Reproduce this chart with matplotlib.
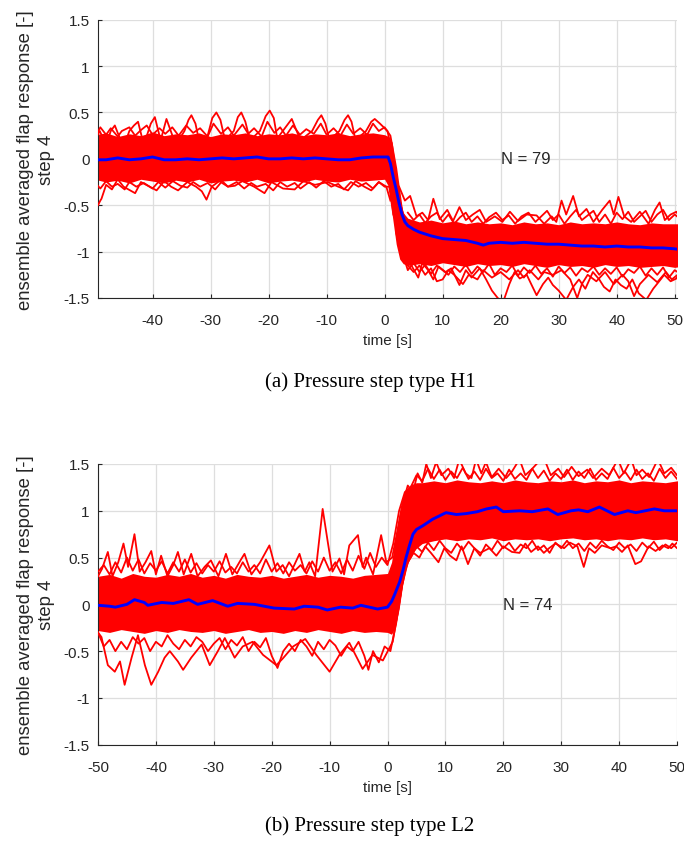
import numpy as np
import matplotlib
matplotlib.use("Agg")
import matplotlib.pyplot as plt

plt.rcParams['font.family'] = ['Liberation Sans', 'DejaVu Sans']
plt.rcParams['axes.unicode_minus'] = False

# ---------------- panel (a): pressure step type H1, N = 79 ----------------
# dense core of the ensemble: (time, upper edge, lower edge)
a_core = [(-50, 0.26, -0.22), (-48, 0.28, -0.25), (-46, 0.24, -0.23), (-44, 0.27, -0.26),
          (-42, 0.25, -0.22), (-40, 0.29, -0.24), (-38, 0.25, -0.26), (-36, 0.27, -0.23),
          (-34, 0.26, -0.25), (-32, 0.28, -0.22), (-30, 0.24, -0.26), (-28, 0.27, -0.24),
          (-26, 0.26, -0.23), (-24, 0.28, -0.25), (-22, 0.25, -0.22), (-20, 0.27, -0.26),
          (-18, 0.26, -0.24), (-16, 0.28, -0.23), (-14, 0.25, -0.25), (-12, 0.27, -0.22),
          (-10, 0.26, -0.24), (-8, 0.28, -0.25), (-6, 0.25, -0.22), (-4, 0.27, -0.24),
          (-2, 0.28, -0.23), (0, 0.26, -0.22), (0.7, 0.24, -0.3), (1.3, 0.18, -0.6),
          (2, -0.15, -0.92), (2.6, -0.42, -1.08), (3.2, -0.58, -1.13), (4, -0.64, -1.15),
          (5, -0.66, -1.14), (6, -0.68, -1.13), (8, -0.66, -1.15), (10, -0.69, -1.12),
          (12, -0.67, -1.14), (14, -0.7, -1.16), (16, -0.68, -1.13), (18, -0.7, -1.15),
          (20, -0.69, -1.14), (22, -0.71, -1.16), (24, -0.68, -1.13), (26, -0.7, -1.15),
          (28, -0.69, -1.17), (30, -0.71, -1.14), (32, -0.68, -1.16), (34, -0.7, -1.15),
          (36, -0.69, -1.17), (38, -0.7, -1.14), (40, -0.68, -1.16), (42, -0.7, -1.15),
          (44, -0.71, -1.17), (46, -0.69, -1.16), (48, -0.7, -1.15), (50, -0.7, -1.17),
          (51, -0.7, -1.16)]

a_mean = [(-50, -0.01), (-48, -0.01), (-46, 0.01), (-44, -0.01), (-42, 0.0), (-40, 0.02),
          (-38, -0.01), (-36, -0.01), (-34, 0.0), (-32, -0.01), (-30, 0.0), (-28, 0.01),
          (-26, 0.0), (-24, 0.01), (-22, 0.02), (-20, 0.0), (-18, 0.0), (-16, 0.01),
          (-14, 0.0), (-12, 0.01), (-10, 0.0), (-8, -0.01), (-6, -0.01), (-4, 0.01),
          (-2, 0.02), (0, 0.02), (0.6, 0.02), (1, -0.05), (1.5, -0.2), (2, -0.33),
          (2.5, -0.48), (3, -0.6), (3.5, -0.68), (4, -0.72), (5, -0.76), (6, -0.79),
          (8, -0.83), (10, -0.86), (12, -0.87), (14, -0.88), (16, -0.91), (17, -0.93),
          (18, -0.91), (20, -0.9), (22, -0.91), (24, -0.9), (26, -0.91), (28, -0.92),
          (30, -0.92), (32, -0.93), (34, -0.94), (36, -0.94), (38, -0.95), (40, -0.94),
          (42, -0.95), (44, -0.95), (46, -0.96), (48, -0.96), (50, -0.97), (51, -0.98)]

# single traces that stick out of the core
a_up_pre = [(-50, 0.2), (-49.1, 0.3), (-48, 0.15), (-47.2, 0.3), (-46.5, 0.36), (-45, 0.12),
            (-44, 0.3), (-43.2, 0.36), (-42.5, 0.4), (-41.5, 0.15), (-40.3, 0.38), (-39.6, 0.45),
            (-38.6, 0.2), (-37.6, 0.43), (-36, 0.15), (-34.5, 0.3), (-33.8, 0.42), (-33.3, 0.47),
            (-32.6, 0.38), (-32, 0.2), (-30.5, 0.25), (-29.7, 0.44), (-29, 0.5), (-28.3, 0.42),
            (-27.5, 0.2), (-26, 0.3), (-25.3, 0.45), (-24.7, 0.5), (-24, 0.4), (-23.2, 0.2),
            (-21.5, 0.3), (-20.5, 0.46), (-19.8, 0.52), (-19.1, 0.44), (-18.5, 0.22), (-16.6, 0.38),
            (-16, 0.43), (-14.5, 0.2), (-12.5, 0.3), (-11.5, 0.42), (-10.9, 0.47), (-10.2, 0.38),
            (-9.5, 0.2), (-7.8, 0.3), (-6.9, 0.42), (-6.3, 0.47), (-5.7, 0.4), (-5, 0.2),
            (-3.2, 0.3), (-2.3, 0.4), (-1.7, 0.43), (-0.8, 0.38), (0.5, 0.3), (1.5, 0.0),
            (2.5, -0.45), (3.5, -0.65)]
a_up_pre2 = [(-50, 0.22), (-49, 0.34), (-48, 0.26), (-47.2, 0.33), (-46, 0.24), (-45.3, 0.3),
             (-44, 0.34), (-43, 0.25), (-42, 0.31), (-41, 0.36), (-40, 0.26), (-38.8, 0.33),
             (-37.8, 0.27), (-36.6, 0.34), (-35.5, 0.25), (-34.2, 0.36), (-33, 0.28), (-31.8, 0.33),
             (-30.5, 0.24), (-29.5, 0.38), (-28.2, 0.27), (-27, 0.34), (-26, 0.25), (-24.5, 0.37),
             (-23.5, 0.27), (-22.5, 0.33), (-21.2, 0.24), (-20.2, 0.4), (-19, 0.28), (-18, 0.34),
             (-17, 0.25), (-15.8, 0.36), (-14.6, 0.26), (-13.5, 0.32), (-12.2, 0.27), (-11, 0.38),
             (-10, 0.26), (-8.8, 0.33), (-7.6, 0.25), (-6.5, 0.37), (-5.4, 0.27), (-4.2, 0.33),
             (-3, 0.26), (-2, 0.38), (-1, 0.3), (0, 0.34), (1, 0.25), (2, -0.1), (3, -0.55)]
a_lo_pre = [(-50, -0.52), (-49.4, -0.5), (-49, -0.45), (-48.8, -0.43), (-48, -0.28), (-47, -0.33),
            (-46, -0.22), (-45, -0.3), (-43, -0.37), (-42, -0.25), (-40.5, -0.3), (-39.3, -0.34),
            (-38, -0.24), (-36.8, -0.3), (-35.6, -0.34), (-34, -0.25), (-32.5, -0.3), (-31.5, -0.35),
            (-30.7, -0.44), (-29.8, -0.3), (-28.5, -0.24), (-27, -0.3), (-25.8, -0.29), (-24.5, -0.24),
            (-22.5, -0.3), (-20.7, -0.37), (-19.5, -0.25), (-17.5, -0.32), (-15.5, -0.33), (-14, -0.24),
            (-12, -0.28), (-9.8, -0.25), (-8, -0.3), (-6.3, -0.34), (-5, -0.24), (-3.5, -0.3),
            (-2.3, -0.34), (-1, -0.25), (0.3, -0.3), (1, -0.45)]
a_lo_pre2 = [(-50, -0.25), (-49, -0.32), (-48, -0.24), (-47, -0.3), (-46, -0.27), (-44.8, -0.33),
             (-44, -0.25), (-42.8, -0.3), (-41.5, -0.26), (-40, -0.32), (-39, -0.25), (-37.8, -0.31),
             (-36.5, -0.24), (-35.2, -0.29), (-34, -0.31), (-33, -0.25), (-31.8, -0.3), (-30.5, -0.26),
             (-29.2, -0.33), (-28, -0.24), (-27, -0.3), (-25.5, -0.25), (-24.2, -0.32), (-23, -0.26),
             (-22, -0.3), (-20.5, -0.27), (-19.2, -0.34), (-18, -0.25), (-16.8, -0.3), (-15.5, -0.26),
             (-14.5, -0.32), (-13, -0.25), (-11.8, -0.31), (-10.5, -0.24), (-9.2, -0.3), (-8, -0.27),
             (-7, -0.33), (-5.8, -0.25), (-4.5, -0.3), (-3.2, -0.26), (-2, -0.32), (-1, -0.25),
             (0, -0.3), (0.8, -0.3), (1.5, -0.6)]
a_up_post = [(2.5, -0.3), (3.5, -0.45), (4.4, -0.4), (5.5, -0.62), (6.5, -0.58), (7.5, -0.66),
             (8.4, -0.43), (9.5, -0.65), (10.8, -0.55), (11.8, -0.67), (12.9, -0.52), (14, -0.66),
             (15.2, -0.6), (16.4, -0.55), (17.5, -0.68), (19, -0.62), (20.3, -0.68), (21.6, -0.57),
             (23, -0.67), (24.5, -0.6), (26.2, -0.61), (27.5, -0.7), (28.8, -0.62), (29.6, -0.68),
             (30.5, -0.45), (31.3, -0.6), (32.5, -0.4), (33.5, -0.62), (34.8, -0.54), (36, -0.68),
             (37.5, -0.55), (38.8, -0.45), (39.5, -0.6), (40.3, -0.41), (41.3, -0.62), (42.5, -0.68),
             (44, -0.57), (45.5, -0.7), (46.6, -0.55), (47.4, -0.47), (48.3, -0.66), (49.3, -0.6),
             (50.3, -0.57), (51, -0.65)]
a_up_post2 = [(4, -0.58), (5, -0.66), (6, -0.6), (7, -0.69), (8, -0.62), (9, -0.58), (10, -0.68),
              (11, -0.6), (12, -0.7), (13, -0.63), (14, -0.58), (15, -0.68), (16, -0.62), (17, -0.7),
              (18, -0.63), (19.2, -0.58), (20.3, -0.66), (21.4, -0.61), (22.5, -0.7), (23.6, -0.62),
              (24.8, -0.58), (26, -0.68), (27, -0.62), (28, -0.56), (29, -0.66), (30, -0.6),
              (31, -0.7), (32, -0.62), (33, -0.55), (34, -0.66), (35, -0.61), (36, -0.56),
              (37, -0.68), (38, -0.6), (39, -0.7), (40, -0.58), (41, -0.65), (42, -0.57),
              (43, -0.68), (44, -0.62), (45, -0.56), (46, -0.68), (47, -0.6), (48, -0.55),
              (49, -0.66), (50, -0.6), (51, -0.65)]
a_lo_post = [(2, -0.8), (3, -1.05), (4.2, -1.1), (4.9, -1.18), (5.8, -1.28), (6.5, -1.12),
             (7.5, -1.2), (8.4, -1.3), (9.3, -1.16), (10.5, -1.22), (11.5, -1.18), (12.9, -1.36),
             (14, -1.2), (15, -1.28), (16.4, -1.18), (17.5, -1.3), (18.5, -1.42), (19.5, -1.5),
             (20.4, -1.55), (21.5, -1.35), (22.4, -1.22), (23.3, -1.29), (24.5, -1.25), (25.5, -1.38),
             (26.2, -1.47), (27.3, -1.35), (28.2, -1.28), (29, -1.36), (30, -1.42), (31.3, -1.52),
             (32.5, -1.38), (33.5, -1.3), (34.6, -1.4), (35.9, -1.22), (37, -1.3), (37.8, -1.38),
             (38.8, -1.43), (39.8, -1.3), (40.7, -1.36), (41.7, -1.4), (42.7, -1.3), (43.8, -1.45),
             (45.1, -1.52), (46.3, -1.4), (47.2, -1.33), (48.2, -1.25), (49.3, -1.32), (50.3, -1.29),
             (51, -1.2)]
a_lo_post2 = [(4, -1.15), (5, -1.22), (6, -1.15), (7, -1.25), (8, -1.18), (9, -1.32), (10, -1.3),
              (11, -1.2), (12, -1.25), (13.5, -1.35), (14.5, -1.25), (16, -1.3), (17, -1.2),
              (18.5, -1.28), (20, -1.22), (21.5, -1.3), (23, -1.2), (24, -1.28), (25, -1.2),
              (26.5, -1.3), (27.5, -1.22), (29, -1.25), (30.5, -1.2), (32, -1.3), (33.2, -1.5),
              (34, -1.35), (35, -1.25), (36.5, -1.32), (38, -1.22), (39.5, -1.35), (41, -1.25),
              (42, -1.32), (43, -1.48), (44, -1.35), (45.5, -1.25), (47, -1.33), (48.5, -1.22),
              (49.5, -1.3), (50.5, -1.25)]
a_lo_post3 = [(3, -1.0), (4, -1.2), (5, -1.12), (6, -1.22), (7, -1.14), (8, -1.24), (9, -1.15),
              (10, -1.2), (11, -1.25), (12, -1.16), (13, -1.22), (14, -1.14), (15, -1.24),
              (16, -1.16), (17, -1.22), (18, -1.13), (19, -1.25), (20, -1.18), (21, -1.22),
              (22, -1.15), (23, -1.26), (24, -1.17), (25, -1.23), (26, -1.15), (27, -1.24),
              (28, -1.18), (29, -1.27), (30, -1.16), (31, -1.23), (32, -1.17), (33, -1.26),
              (34, -1.18), (35, -1.22), (36, -1.16), (37, -1.25), (38, -1.18), (39, -1.24),
              (40, -1.17), (41, -1.27), (42, -1.19), (43, -1.23), (44, -1.16), (45, -1.26),
              (46, -1.18), (47, -1.25), (48, -1.17), (49, -1.28), (50, -1.2), (51, -1.24)]

# ---------------- panel (b): pressure step type L2, N = 74 ----------------
b_core = [(-50, 0.3, -0.28), (-48, 0.32, -0.3), (-46, 0.28, -0.27), (-44, 0.33, -0.29),
          (-42, 0.3, -0.31), (-40, 0.29, -0.28), (-38, 0.32, -0.3), (-36, 0.3, -0.27),
          (-34, 0.33, -0.29), (-32, 0.29, -0.3), (-30, 0.31, -0.28), (-28, 0.28, -0.31),
          (-26, 0.32, -0.29), (-24, 0.3, -0.27), (-22, 0.29, -0.3), (-20, 0.31, -0.29),
          (-18, 0.28, -0.31), (-16, 0.3, -0.28), (-14, 0.32, -0.3), (-12, 0.29, -0.27),
          (-10, 0.31, -0.29), (-8, 0.3, -0.31), (-6, 0.28, -0.28), (-4, 0.31, -0.3),
          (-2, 0.32, -0.29), (0, 0.33, -0.3), (0.7, 0.45, -0.32), (1.3, 0.7, -0.25),
          (2, 0.95, -0.05), (2.6, 1.12, 0.2), (3.2, 1.22, 0.38), (4, 1.28, 0.52),
          (5, 1.3, 0.6), (6, 1.3, 0.65), (8, 1.32, 0.68), (10, 1.3, 0.7), (12, 1.33, 0.68),
          (14, 1.31, 0.7), (16, 1.3, 0.69), (18, 1.32, 0.71), (20, 1.3, 0.68), (22, 1.33, 0.7),
          (24, 1.31, 0.69), (26, 1.3, 0.7), (28, 1.32, 0.68), (30, 1.31, 0.7), (32, 1.33, 0.71),
          (34, 1.3, 0.69), (36, 1.32, 0.7), (38, 1.31, 0.68), (40, 1.33, 0.7), (42, 1.3, 0.69),
          (44, 1.32, 0.71), (46, 1.31, 0.69), (48, 1.3, 0.7), (50, 1.32, 0.68), (51, 1.32, 0.7)]

b_mean = [(-50, -0.01), (-48, -0.02), (-47, -0.03), (-45, 0.0), (-43.7, 0.05), (-42, 0.02),
          (-41.4, -0.01), (-39, 0.02), (-37, 0.01), (-34.3, 0.05), (-32.8, 0.0), (-30.2, 0.04),
          (-27.6, -0.02), (-25.9, 0.01), (-23, 0.0), (-19.6, -0.04), (-16.1, -0.05), (-14.4, -0.02),
          (-12, -0.03), (-10.4, -0.06), (-8.1, -0.03), (-6, -0.04), (-4.6, -0.01), (-1.7, -0.05),
          (0, -0.03), (0.7, 0.03), (1.2, 0.1), (2.1, 0.24), (2.7, 0.37), (3.2, 0.5), (3.8, 0.63),
          (4.4, 0.75), (5, 0.8), (6.1, 0.84), (7.8, 0.91), (10.1, 0.98), (11.9, 0.96), (13.6, 0.97),
          (15.5, 0.99), (17.1, 1.02), (18.8, 1.04), (20, 0.99), (22.8, 1.0), (25, 0.99),
          (27.7, 1.02), (29.4, 0.96), (31.7, 1.0), (33, 1.01), (34.6, 0.99), (36.6, 1.04),
          (39.2, 0.96), (41.5, 1.0), (42.9, 0.98), (44.5, 1.0), (46.1, 1.02), (47.8, 1.0),
          (50, 1.0), (51, 1.0)]

b_up = [(-50, 0.3), (-49.3, 0.38), (-48.3, 0.56), (-47.5, 0.3), (-46.5, 0.45), (-45.6, 0.65),
        (-44.8, 0.4), (-43.7, 0.75), (-42.8, 0.35), (-41.8, 0.45), (-40.8, 0.57), (-40, 0.32),
        (-39.1, 0.52), (-38, 0.3), (-37, 0.42), (-36.2, 0.56), (-35.2, 0.32), (-33.9, 0.54),
        (-32.8, 0.3), (-31.6, 0.4), (-30.5, 0.47), (-29.2, 0.3), (-27.9, 0.54), (-26.8, 0.32),
        (-25.3, 0.48), (-24.7, 0.54), (-23.5, 0.32), (-22, 0.45), (-20.4, 0.63), (-19.2, 0.35),
        (-18.1, 0.42), (-17, 0.3), (-15.2, 0.54), (-14.3, 0.35), (-13.5, 0.45), (-12.5, 0.3),
        (-11.2, 1.02), (-10.3, 0.66), (-9.5, 0.35), (-8.3, 0.49), (-7.5, 0.32), (-6.6, 0.63),
        (-5.1, 0.74), (-4.3, 0.4), (-3.7, 0.5), (-2.5, 0.32), (-1.1, 0.74), (-0.2, 0.45),
        (0.8, 0.5), (1.6, 0.75), (2.5, 1.05), (3.5, 1.27), (4.4, 1.2), (5.2, 1.4), (6, 1.3),
        (6.7, 1.5), (7.5, 1.35), (8.4, 1.52), (9.3, 1.38), (10.5, 1.45), (11.5, 1.35),
        (12.4, 1.55), (13.5, 1.4), (14.5, 1.35), (15.3, 1.55), (16.2, 1.4), (17, 1.52),
        (18, 1.36), (19.2, 1.45), (20.5, 1.35), (21.5, 1.42), (22.8, 1.55), (23.8, 1.38),
        (25, 1.45), (26.5, 1.55), (27.3, 1.52), (28.2, 1.38), (29.5, 1.45), (30.5, 1.36),
        (31.8, 1.47), (33, 1.37), (34.5, 1.44), (35.5, 1.35), (37, 1.45), (38.3, 1.38),
        (39.8, 1.55), (40.8, 1.4), (42.1, 1.55), (43, 1.38), (44, 1.44), (45.2, 1.36),
        (46.7, 1.55), (47.8, 1.4), (49, 1.46), (50, 1.38), (51, 1.42)]
b_up2 = [(-50, 0.35), (-49, 0.42), (-48, 0.32), (-47, 0.45), (-46, 0.34), (-45, 0.5), (-44, 0.36),
         (-43, 0.48), (-42, 0.33), (-41, 0.44), (-40, 0.36), (-39, 0.46), (-38, 0.33), (-37, 0.45),
         (-36, 0.35), (-35, 0.48), (-34, 0.34), (-33, 0.44), (-32, 0.33), (-31, 0.42), (-30, 0.35),
         (-29, 0.46), (-28, 0.34), (-27, 0.4), (-26, 0.33), (-25, 0.45), (-24, 0.35), (-23, 0.42),
         (-22, 0.33), (-21, 0.48), (-20, 0.35), (-19, 0.44), (-18, 0.33), (-17, 0.45), (-16, 0.36),
         (-15, 0.42), (-14, 0.33), (-13, 0.46), (-12, 0.35), (-11, 0.5), (-10, 0.36), (-9, 0.45),
         (-8, 0.33), (-7, 0.48), (-6, 0.36), (-5, 0.52), (-4, 0.38), (-3, 0.55), (-2, 0.4),
         (-1, 0.5), (0, 0.42), (1, 0.65), (2, 1.0), (3, 1.2), (4, 1.25), (5, 1.38), (6, 1.32),
         (7, 1.45), (8, 1.34), (9, 1.44), (10, 1.33), (11, 1.42), (12, 1.35), (13, 1.46),
         (14, 1.34), (15, 1.42), (16, 1.33), (17, 1.45), (18, 1.35), (19, 1.4), (20, 1.32),
         (21, 1.44), (22, 1.34), (23, 1.4), (24, 1.33), (25, 1.45), (26, 1.35), (27, 1.43),
         (28, 1.32), (29, 1.4), (30, 1.34), (31, 1.44), (32, 1.33), (33, 1.42), (34, 1.35),
         (35, 1.45), (36, 1.33), (37, 1.4), (38, 1.34), (39, 1.46), (40, 1.35), (41, 1.42),
         (42, 1.33), (43, 1.44), (44, 1.34), (45, 1.4), (46, 1.32), (47, 1.45), (48, 1.35),
         (49, 1.42), (50, 1.34), (51, 1.4)]
b_lo = [(-50, -0.3), (-49.4, -0.35), (-48.3, -0.65), (-47.1, -0.72), (-46.2, -0.61), (-45.4, -0.86),
        (-44.2, -0.57), (-43.1, -0.33), (-41.9, -0.65), (-40.8, -0.86), (-39.6, -0.72), (-38.5, -0.57),
        (-37.6, -0.5), (-36.2, -0.61), (-35.3, -0.7), (-33.9, -0.57), (-32.1, -0.43), (-30.7, -0.65),
        (-29.3, -0.5), (-28.1, -0.36), (-26.4, -0.57), (-25, -0.45), (-23.3, -0.4), (-21.5, -0.54),
        (-19.2, -0.65), (-18.1, -0.58), (-16.3, -0.45), (-14.2, -0.37), (-12.3, -0.54), (-10, -0.72),
        (-8.3, -0.54), (-6.6, -0.41), (-4.3, -0.69), (-2.6, -0.54), (-0.8, -0.6), (0.9, -0.4),
        (2, 0.0), (3, 0.4), (4.5, 0.55), (5.5, 0.5), (6.5, 0.62), (7.5, 0.55), (8.8, 0.45),
        (9.8, 0.6), (10.8, 0.52), (11.9, 0.47), (12.8, 0.62), (13.9, 0.43), (15, 0.6), (16, 0.55),
        (17.6, 0.6), (18.8, 0.52), (20, 0.62), (21.5, 0.56), (22.8, 0.55), (23.8, 0.65),
        (24.8, 0.56), (26, 0.62), (27, 0.55), (27.9, 0.6), (29, 0.65), (30.5, 0.6), (31.5, 0.66),
        (32.8, 0.62), (33.9, 0.4), (34.8, 0.6), (35.8, 0.55), (37, 0.63), (38.5, 0.6), (39.5, 0.62),
        (40.5, 0.56), (41.5, 0.63), (42.8, 0.43), (43.8, 0.46), (45.1, 0.62), (46.3, 0.57),
        (47.5, 0.63), (48.5, 0.6), (49.2, 0.65), (50, 0.6), (51, 0.64)]
b_lo2 = [(-50, -0.3), (-49, -0.45), (-48, -0.38), (-47, -0.5), (-46, -0.4), (-45, -0.48),
         (-44, -0.35), (-43, -0.42), (-42, -0.36), (-41, -0.5), (-40, -0.4), (-39, -0.45),
         (-38, -0.33), (-37, -0.42), (-36, -0.48), (-35, -0.38), (-34, -0.45), (-33, -0.35),
         (-32, -0.4), (-31, -0.5), (-30, -0.42), (-29, -0.36), (-28, -0.48), (-27, -0.38),
         (-26, -0.44), (-25, -0.35), (-24, -0.5), (-23, -0.4), (-22, -0.46), (-21, -0.36),
         (-20, -0.55), (-19, -0.68), (-18, -0.5), (-17, -0.42), (-16, -0.5), (-15, -0.38),
         (-14, -0.45), (-13, -0.55), (-12, -0.4), (-11, -0.48), (-10, -0.38), (-9, -0.44),
         (-8, -0.55), (-7, -0.45), (-6, -0.5), (-5, -0.4), (-4, -0.55), (-3.3, -0.7), (-2.5, -0.5),
         (-1.5, -0.62), (-0.5, -0.45), (0.5, -0.5), (1.5, -0.2), (2.5, 0.2), (3.5, 0.45),
         (4, 0.5), (5, 0.62), (6, 0.56), (7, 0.66), (8, 0.58), (9, 0.68), (10, 0.6), (11, 0.55),
         (12, 0.65), (13, 0.58), (14, 0.67), (15, 0.6), (16, 0.52), (17, 0.64), (18, 0.58),
         (19, 0.68), (20, 0.6), (21, 0.66), (22, 0.57), (23, 0.64), (24, 0.6), (25, 0.68),
         (26, 0.58), (27, 0.63), (28, 0.55), (29, 0.66), (30, 0.6), (31, 0.68), (32, 0.6),
         (33, 0.65), (34, 0.57), (35, 0.66), (36, 0.6), (37, 0.68), (38, 0.62), (39, 0.58),
         (40, 0.66), (41, 0.6), (42, 0.64), (43, 0.57), (44, 0.66), (45, 0.6), (46, 0.67),
         (47, 0.58), (48, 0.64), (49, 0.6), (50, 0.66), (51, 0.62)]

yticks = [-1.5, -1, -0.5, 0, 0.5, 1, 1.5]
ytick_labels = ['-1.5', '-1', '-0.5', '0', '0.5', '1', '1.5']
ylabel = 'ensemble averaged flap response [-]\nstep 4'

dark = '#262626'


def draw_panel(ax, core, mean, traces, xlim, xticks, n_label):
    core = np.array(core)
    ax.fill_between(core[:, 0], core[:, 2], core[:, 1], color='#ff0000', lw=0, zorder=2)
    for tr in traces:
        tr = np.array(tr)
        ax.plot(tr[:, 0], tr[:, 1], color='#ff0000', lw=1.3, zorder=3)
    mean = np.array(mean)
    ax.plot(mean[:, 0], mean[:, 1], color='#0000ff', lw=2.1, zorder=4)
    ax.text(20, 0, n_label, fontsize=12, color=dark, va='center', ha='left')

    ax.set_xlim(xlim)
    ax.set_ylim(-1.5, 1.5)
    ax.set_xticks(xticks)
    ax.set_xticklabels([str(x) for x in xticks])
    ax.set_yticks(yticks)
    ax.set_yticklabels(ytick_labels)
    ax.grid(True, color='#dedede', lw=0.9)
    ax.set_axisbelow(True)
    for s in ['top', 'right']:
        ax.spines[s].set_visible(False)
    for s in ['left', 'bottom']:
        ax.spines[s].set_color(dark)
        ax.spines[s].set_linewidth(0.8)
    ax.tick_params(direction='in', length=3, colors=dark, labelsize=11, pad=6)
    ax.tick_params(axis='x', pad=11)
    ax.set_xlabel('time [s]', fontsize=11, color=dark, labelpad=4)
    ax.set_ylabel(ylabel, fontsize=13.3, color=dark, linespacing=1.3)
    ax.yaxis.set_label_coords(-0.075, 0.5)


fig = plt.figure(figsize=(6.84, 8.45), dpi=100)
ax1 = fig.add_axes([98 / 684, 1 - 299 / 845, 579 / 684, 278.3 / 845])
ax2 = fig.add_axes([98 / 684, 1 - 745.7 / 845, 579 / 684, 280.7 / 845])

draw_panel(ax1, a_core, a_mean,
           [a_up_pre, a_up_pre2, a_lo_pre, a_lo_pre2, a_up_post, a_up_post2,
            a_lo_post, a_lo_post2, a_lo_post3],
           (-49.4, 50.4), [-40, -30, -20, -10, 0, 10, 20, 30, 40, 50], 'N = 79')
draw_panel(ax2, b_core, b_mean, [b_up, b_up2, b_lo, b_lo2],
           (-50, 50), [-50, -40, -30, -20, -10, 0, 10, 20, 30, 40, 50], 'N = 74')

fig.text(370 / 684, 1 - 382 / 845, '(a) Pressure step type H1', family='Liberation Serif',
         fontsize=15, ha='center', va='center', color='black')
fig.text(370 / 684, 1 - 826 / 845, '(b) Pressure step type L2', family='Liberation Serif',
         fontsize=15, ha='center', va='center', color='black')

fig.savefig('out.png', dpi=100)
